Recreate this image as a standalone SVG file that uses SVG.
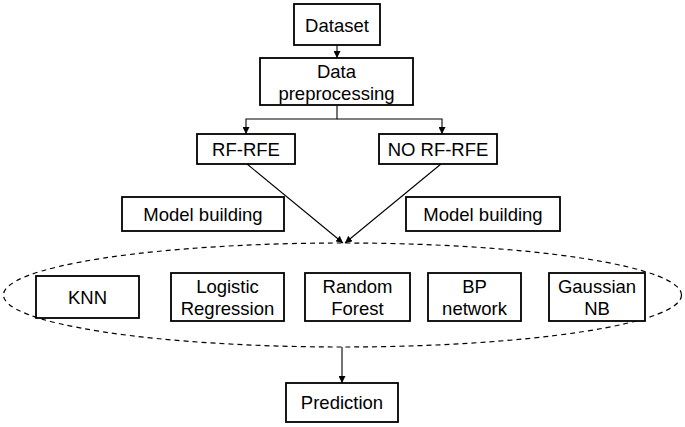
<svg xmlns="http://www.w3.org/2000/svg" width="685" height="427" viewBox="0 0 685 427">
<defs>
<marker id="ah" viewBox="0 0 10 10" refX="10" refY="5" markerWidth="7" markerHeight="7" markerUnits="userSpaceOnUse" orient="auto">
<path d="M0,0 L10,5 L0,10 Z" fill="#000"/>
</marker>
<style>
.box{fill:#fff;stroke:#000;stroke-width:1.8}
.t{font-family:"Liberation Sans",Arial,sans-serif;font-size:18.5px;fill:#000;text-anchor:middle}
.c{fill:none;stroke:#000;stroke-width:1.1}
.e{fill:none;stroke:#000;stroke-width:1.2;stroke-dasharray:5 4}
</style>
</defs>
<rect width="685" height="427" fill="#fff"/>
<g id="connectors">
<line class="c" x1="337" y1="45" x2="337" y2="58" marker-end="url(#ah)"/>
<polyline class="c" points="337,105 337,119 246,119 246,134" marker-end="url(#ah)"/>
<polyline class="c" points="337,119 442,119 442,134" marker-end="url(#ah)"/>
<line class="c" x1="247" y1="164" x2="343" y2="243" marker-end="url(#ah)"/>
<line class="c" x1="441" y1="164" x2="345" y2="243" marker-end="url(#ah)"/>
<line class="c" x1="342" y1="347" x2="342" y2="383" marker-end="url(#ah)"/>
</g>
<g id="ensemble">
<ellipse class="e" cx="342.5" cy="295" rx="339" ry="52"/>
</g>
<g id="dataset"><rect class="box" x="294" y="4" width="86" height="41"/><text class="t" x="337" y="32">Dataset</text></g>
<g id="preprocessing"><rect class="box" x="260" y="58" width="153" height="47"/><text class="t" x="336.5" y="78">Data</text><text class="t" x="336.5" y="100">preprocessing</text></g>
<g id="rfrfe"><rect class="box" x="197" y="134" width="98" height="30"/><text class="t" x="246" y="156">RF-RFE</text></g>
<g id="norfrfe"><rect class="box" x="379" y="134" width="118" height="30"/><text class="t" x="438" y="156">NO RF-RFE</text></g>
<g id="model-left"><rect class="box" x="122" y="197" width="162" height="34"/><text class="t" x="203" y="221">Model building</text></g>
<g id="model-right"><rect class="box" x="406" y="197" width="154" height="34"/><text class="t" x="483" y="221">Model building</text></g>
<g id="knn"><rect class="box" x="36" y="276" width="103" height="42"/><text class="t" x="87.5" y="304">KNN</text></g>
<g id="logistic"><rect class="box" x="171" y="273" width="113" height="48"/><text class="t" x="227.5" y="293">Logistic</text><text class="t" x="227.5" y="315">Regression</text></g>
<g id="randomforest"><rect class="box" x="305" y="273" width="105" height="48"/><text class="t" x="357.5" y="293">Random</text><text class="t" x="357.5" y="315">Forest</text></g>
<g id="bp"><rect class="box" x="428" y="273" width="93" height="48"/><text class="t" x="474.5" y="293">BP</text><text class="t" x="474.5" y="315">network</text></g>
<g id="gaussian"><rect class="box" x="549" y="273" width="96" height="48"/><text class="t" x="597" y="293">Gaussian</text><text class="t" x="597" y="315">NB</text></g>
<g id="prediction"><rect class="box" x="286" y="383" width="112" height="39"/><text class="t" x="342" y="409">Prediction</text></g>
</svg>
